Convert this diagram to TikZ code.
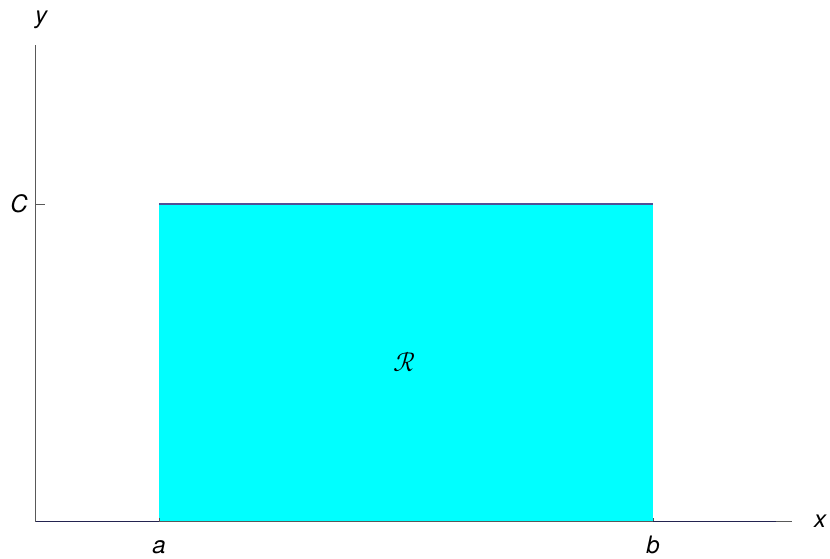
\documentclass[tikz,border=0pt]{standalone}
\usepackage{fontspec}
\setmainfont{TeX Gyre Heros}
\usepackage{unicode-math}
\begin{document}
\begin{tikzpicture}[x=1pt,y=-1pt,
  axis/.style={draw=black!65, line width=0.9pt},
  plotline/.style={draw=plotblue, line width=1.3pt},
  lbl/.style={font=\fontsize{24}{26}\selectfont\itshape, inner sep=0pt}]
\definecolor{plotblue}{RGB}{80,80,150}
\definecolor{plotdark}{RGB}{35,35,80}
\definecolor{regioncyan}{RGB}{0,255,255}
\useasboundingbox (0,0) rectangle (830,559);
% coordinates
\coordinate (O) at (35.5,521.5);
\coordinate (ytop) at (35.5,45);
\coordinate (xend) at (792,521.5);
\coordinate (A) at (159,521.5);
\coordinate (B) at (653,521.5);
\coordinate (Ctop) at (159,204);
\coordinate (Btop) at (653,204);
\coordinate (Cy) at (35.5,204);
\coordinate (Ct) at (45,204);
\coordinate (lineend) at (776,521.5);
% region
\fill[regioncyan] (A) rectangle (Btop);
% axes
\draw[axis] (O) -- (ytop);
\draw[axis] (O) -- (xend);
\draw[axis] (Cy) -- (Ct);
\draw[axis] (A) -- ++(0,-4);
\draw[axis] (B) -- ++(0,-4);
% plot
\draw[plotline, draw=plotdark] (O) -- (A);
\draw[plotline] (Ctop) -- (Btop);
\draw[plotline, draw=plotdark] (B) -- (lineend);
% labels
\node[lbl] (ylab) at (41,20) {y};
\node[lbl] (clab) at (19,204) {C};
\node[lbl] (alab) at (159,547) {a};
\node[lbl] (blab) at (653,545) {b};
\node[lbl] (xlab) at (820,521) {x};
\node[inner sep=0pt] (R) at (405,362) {\fontsize{27}{29}\selectfont$\mathcal{R}$};
\end{tikzpicture}
\end{document}
